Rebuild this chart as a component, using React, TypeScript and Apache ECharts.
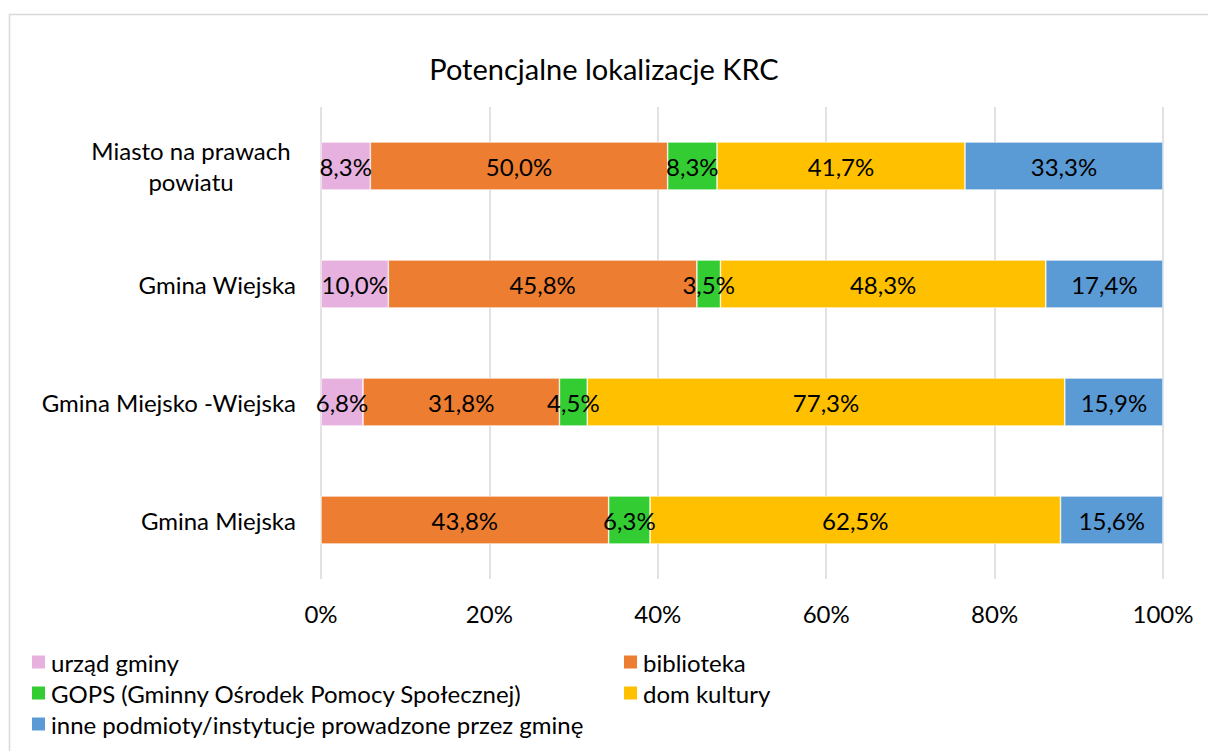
import React, { useEffect, useRef } from "react";
import * as echarts from "echarts";

const categories = [
  "Gmina Miejska",
  "Gmina Miejsko -Wiejska",
  "Gmina Wiejska",
  "Miasto na prawach\npowiatu",
];
const seriesNames = [
  "urząd gminy",
  "biblioteka",
  "GOPS (Gminny Ośrodek Pomocy Społecznej)",
  "dom kultury",
  "inne podmioty/instytucje prowadzone przez gminę",
];
const urzad = [0, 6.8, 10.0, 8.3];
const biblioteka = [43.8, 31.8, 45.8, 50.0];
const gops = [6.3, 4.5, 3.5, 8.3];
const domKultury = [62.5, 77.3, 48.3, 41.7];
const inne = [15.6, 15.9, 17.4, 33.3];
const xTicks = [0, 20, 40, 60, 80, 100];
const colors = ["#E6B1DF", "#ED7D31", "#33CC33", "#FFC000", "#5B9BD5"];

const FONT = "Lato, 'Noto Sans', sans-serif";
const FS = 24;

export default function App() {
  const ref = useRef<HTMLDivElement>(null);
  useEffect(() => {
    document.body.style.margin = "0";
    const chart = echarts.init(ref.current!, null, { renderer: "svg" });
    const raw = [urzad, biblioteka, gops, domKultury, inne];
    const totals = categories.map((_, i) => raw.reduce((s, arr) => s + arr[i], 0));
    const series = raw.map((arr, si) => ({
      name: seriesNames[si],
      type: "bar",
      stack: "total",
      barWidth: 48,
      itemStyle: { color: colors[si], borderColor: "#ffffff", borderWidth: 0.6 },
      label: {
        show: true,
        position: "inside",
        color: "#000",
        fontSize: FS,
        fontFamily: FONT,
        formatter: (p: any) => {
          const v = arr[p.dataIndex];
          return v ? v.toFixed(1).replace(".", ",") + "%" : "";
        },
      },
      data: arr.map((v, i) => (v / totals[i]) * 100),
    }));
    const legendText = { fontSize: FS, color: "#000", lineHeight: 24, fontFamily: FONT };
    chart.setOption({
      animation: false,
      textStyle: { fontFamily: FONT },
      title: {
        text: "Potencjalne lokalizacje KRC",
        left: "center",
        top: 54,
        padding: 0,
        textStyle: { fontSize: 29, fontWeight: "normal", color: "#000", fontFamily: FONT },
      },
      graphic: [
        {
          type: "rect",
          shape: { x: 9.5, y: 14.5, width: 1400, height: 1000 },
          style: { fill: "none", stroke: "#d9d9d9", lineWidth: 1.5 },
          silent: true,
        },
      ],
      legend: [
        {
          data: [seriesNames[0], seriesNames[2], seriesNames[4]],
          orient: "vertical",
          left: 30,
          top: 650,
          padding: 0,
          itemWidth: 15,
          itemHeight: 15,
          itemGap: 7,
          icon: "rect",
          textStyle: legendText,
        },
        {
          data: [seriesNames[1], seriesNames[3]],
          orient: "vertical",
          left: 622,
          top: 650,
          padding: 0,
          itemWidth: 15,
          itemHeight: 15,
          itemGap: 7,
          icon: "rect",
          textStyle: legendText,
        },
      ],
      grid: { left: 321, right: 45, top: 107, bottom: 172 },
      xAxis: {
        type: "value",
        min: 0,
        max: 100,
        interval: 20,
        axisLine: { show: false },
        axisTick: { show: false },
        splitLine: { lineStyle: { color: "#d9d9d9", width: 1.5 } },
        axisLabel: {
          fontSize: FS,
          color: "#000",
          margin: 22,
          fontFamily: FONT,
          formatter: (v: number) => (xTicks.includes(v) ? v + "%" : ""),
        },
      },
      yAxis: {
        type: "category",
        data: categories,
        axisLine: { show: false },
        axisTick: { show: false },
        axisLabel: {
          fontSize: FS,
          color: "#000",
          margin: 25,
          fontFamily: FONT,
          formatter: (v: string) => (v.includes("\n") ? v.split("\n").map((l) => `{c|${l}}`).join("\n") : v),
          rich: { c: { width: 210, align: "center", fontSize: FS, lineHeight: 31, color: "#000", fontFamily: FONT } },
        },
      },
      series,
    });
    return () => chart.dispose();
  }, []);
  return <div ref={ref} style={{ width: 1208, height: 751 }} />;
}
